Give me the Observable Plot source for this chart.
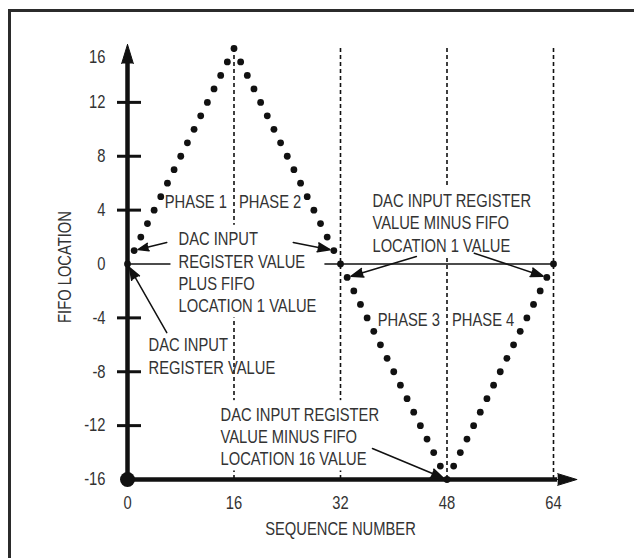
<!DOCTYPE html>
<html><head><meta charset="utf-8">
<script src="https://cdn.jsdelivr.net/npm/d3@7"></script>
<script src="https://cdn.jsdelivr.net/npm/@observablehq/plot@0.6"></script>
<style>
html,body{margin:0;padding:0;background:#fff;}
#wrap{position:relative;width:634px;height:558px;overflow:hidden;background:#fff;}
#wrap svg{position:absolute;left:0;top:0;}
#frame{position:absolute;left:8px;top:9px;width:700px;height:700px;border-top:3px solid #2b2b2b;border-left:3px solid #2b2b2b;pointer-events:none;}
</style></head><body>
<div id="wrap"><div id="frame"></div></div>
<script>
// ---- data ----
const seqNumber = [0,1,2,3,4,5,6,7,8,9,10,11,12,13,14,15,16,17,18,19,20,21,22,23,24,25,26,27,28,29,30,31,32,
  33,34,35,36,37,38,39,40,41,42,43,44,45,46,47,48,49,50,51,52,53,54,55,56,57,58,59,60,61,62,63,64];
const fifoLocation = [0,1,2,3,4,5,6,7,8,9,10,11,12,13,14,15,16,15,14,13,12,11,10,9,8,7,6,5,4,3,2,1,0,
  -1,-2,-3,-4,-5,-6,-7,-8,-9,-10,-11,-12,-13,-14,-15,-16,-15,-14,-13,-12,-11,-10,-9,-8,-7,-6,-5,-4,-3,-2,-1,0];
const originX = [0];
const originY = [-16];
const phaseBoundaries = [16, 32, 48, 64];
const xTickValues = [0, 16, 32, 48, 64];
const yTickValues = [16, 12, 8, 4, 0, -4, -8, -12, -16];
const yTickMarks = [12, 8, 4, -4, -8, -12];
const xTitle = ["SEQUENCE NUMBER"];
const yTitle = ["FIFO LOCATION"];
const phaseNames = ["PHASE 1", "PHASE 2", "PHASE 3", "PHASE 4"];
const phaseLabelX = [16, 16, 48, 48];
const phaseLabelY = [4.6, 4.6, -4.2, -4.2];
const calloutText = [
  "DAC INPUT\nREGISTER VALUE\nPLUS FIFO\nLOCATION 1 VALUE",
  "DAC INPUT\nREGISTER VALUE",
  "DAC INPUT REGISTER\nVALUE MINUS FIFO\nLOCATION 1 VALUE",
  "DAC INPUT REGISTER\nVALUE MINUS FIFO\nLOCATION 16 VALUE"
];
const calloutX = [7.66, 3.16, 36.8, 13.97];
const calloutY = [-0.56, -6.79, 3.1, -12.75];
const boxedCallouts = [0, 2, 3];
const arrowX1 = [5.9, 24.9, 5.9, 43.4, 52.1, 36.8];
const arrowY1 = [1.6, 1.6, -5.1, 0.55, 0.8, -13.7];
const arrowX2 = [1, 31, 0, 33, 63, 48];
const arrowY2 = [1, 1, 0, -1, -1, -16];
const axisArrowX1 = [0, 0];
const axisArrowY1 = [-16, -16];
const axisArrowX2 = [0, 67.5];
const axisArrowY2 = [16.3, -16];

const ink = "#111";
const txt = "#333";
const condense = 0.82;
const idx = d3.range(seqNumber.length);
const phaseIdx = d3.range(phaseNames.length);
const calloutIdx = d3.range(calloutText.length);
const arrowIdx = d3.range(arrowX1.length);
const axisIdx = d3.range(axisArrowX1.length);

const svg = Plot.plot({
  width: 634, height: 558,
  marginLeft: 127, marginRight: 81, marginTop: 48, marginBottom: 79,
  x: {domain: [0, 64], axis: null},
  y: {domain: [-16, 16], axis: null},
  style: {fontFamily: "'Liberation Sans', Arial, sans-serif", fontSize: "18px", background: "transparent", color: ink, overflow: "visible"},
  marks: [
    Plot.ruleX(phaseBoundaries, {x: d => d, y1: -16, y2: 16.1, stroke: ink, strokeWidth: 1.6, strokeDasharray: "4,3"}),
    Plot.ruleY([0], {y: d => d, x1: 0, x2: 64, stroke: ink, strokeWidth: 1.5}),
    Plot.ruleY(yTickMarks, {y: d => d, x1: 0, x2: 0, insetLeft: -10, insetRight: -14, stroke: ink, strokeWidth: 3}),
    Plot.ruleX([0], {x: d => d, y1: -16, y2: 15.2, stroke: ink, strokeWidth: 4.5}),
    Plot.ruleY([-16], {y: d => d, x1: 0, x2: 64.6, stroke: ink, strokeWidth: 4.5}),
    Plot.arrow(axisIdx, {x1: i => axisArrowX1[i], y1: i => axisArrowY1[i], x2: i => axisArrowX2[i], y2: i => axisArrowY2[i],
      stroke: ink, fill: ink, strokeWidth: 1, headLength: 30, headAngle: 34}),
    // tick labels
    Plot.text(yTickValues, {filter: d => d !== 16, x: 0, y: d => d, text: d => String(d), textAnchor: "end", dx: -22, fill: txt}),
    Plot.text(yTickValues, {filter: d => d === 16, x: 0, y: d => d, text: d => String(d), textAnchor: "end", dx: -22, dy: 9, fill: txt}),
    Plot.text(xTickValues, {x: d => d, y: -16, text: d => String(d), dy: 24, fill: txt}),
    // axis titles
    Plot.text(xTitle, {x: 32, y: -16, text: d => d, dy: 50, fill: txt}),
    Plot.text(yTitle, {x: 0, y: 0, text: d => d, rotate: -90, dx: -62, dy: 3, fill: txt}),
    // phase labels
    Plot.text(phaseIdx, {filter: i => i % 2 === 0, x: i => phaseLabelX[i], y: i => phaseLabelY[i], text: i => phaseNames[i], textAnchor: "end", dx: -7, fill: txt}),
    Plot.text(phaseIdx, {filter: i => i % 2 === 1, x: i => phaseLabelX[i], y: i => phaseLabelY[i], text: i => phaseNames[i], textAnchor: "start", dx: 5, fill: txt}),
    // callouts
    Plot.text(calloutIdx, {x: i => calloutX[i], y: i => calloutY[i], text: i => calloutText[i],
      textAnchor: "start", lineAnchor: "middle", lineHeight: 1.24, fill: txt}),
    Plot.arrow(arrowIdx, {x1: i => arrowX1[i], y1: i => arrowY1[i], x2: i => arrowX2[i], y2: i => arrowY2[i],
      stroke: ink, fill: ink, strokeWidth: 1.5, headLength: 13, headAngle: 40, insetEnd: 4}),
    // data points
    Plot.dot(idx, {x: i => seqNumber[i], y: i => fifoLocation[i], r: 3.4, fill: ink}),
    Plot.dot(d3.range(originX.length), {x: i => originX[i], y: i => originY[i], r: 7.5, fill: ink})
  ]
});

// condense the lettering (Helvetica Narrow look)
svg.querySelectorAll("text").forEach(t => {
  const tr = t.getAttribute("transform") || "";
  t.setAttribute("transform", (tr + ` scale(${condense},1)`).trim());
});
document.getElementById("wrap").appendChild(svg);

// white boxes behind the boxed callouts (they mask the guide lines as in the original)
const boxedStrings = boxedCallouts.map(i => calloutText[i].replace(/\n/g, ""));
svg.querySelectorAll("text").forEach(t => {
  if (!boxedStrings.includes(t.textContent)) return;
  const b = t.getBBox();
  const padX = 8 / condense;
  const r = document.createElementNS("http://www.w3.org/2000/svg", "rect");
  r.setAttribute("x", b.x - padX);
  r.setAttribute("y", b.y - 4);
  r.setAttribute("width", b.width + 2 * padX);
  r.setAttribute("height", b.height + 6);
  r.setAttribute("fill", "white");
  r.setAttribute("stroke", "none");
  const tr = t.getAttribute("transform");
  if (tr) r.setAttribute("transform", tr);
  t.parentNode.insertBefore(r, t);
});
</script>
</body></html>
